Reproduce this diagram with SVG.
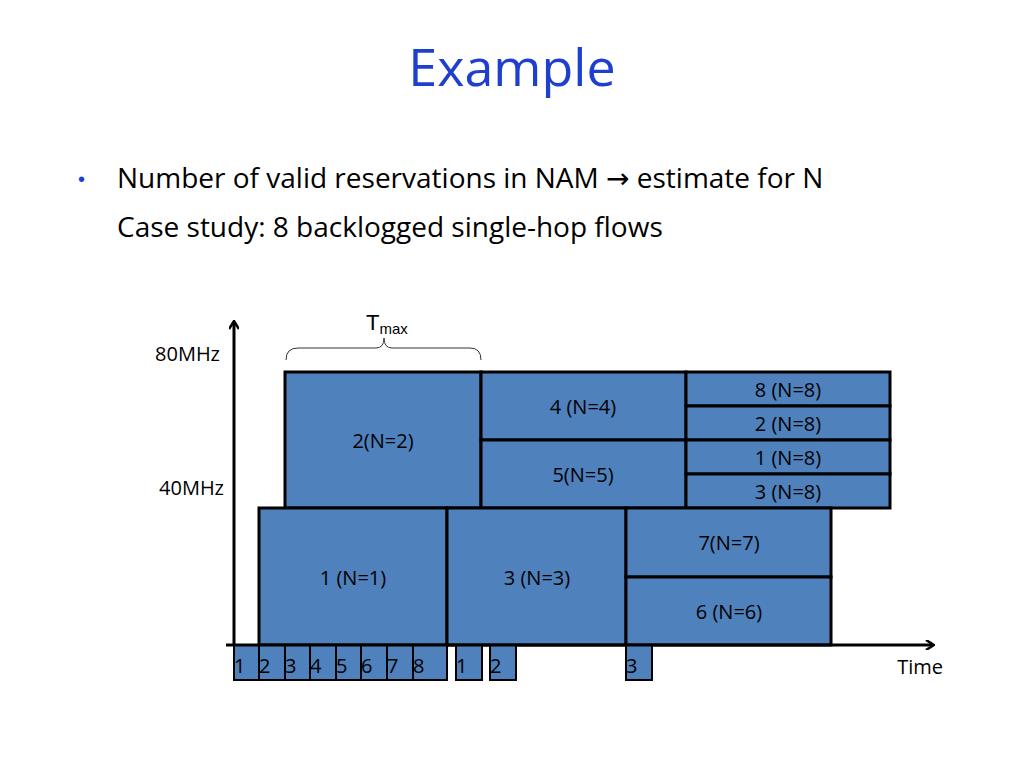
<svg xmlns="http://www.w3.org/2000/svg" width="1024" height="768" viewBox="0 0 1024 768">
<style>
.b{fill:#4f81bd;stroke:#000;stroke-width:3}
.s{fill:#4f81bd;stroke:#000;stroke-width:2}
.t{font-family:"Open Sans","Liberation Sans",sans-serif;font-size:20px;fill:#000;text-anchor:middle}
.n{font-family:"Open Sans","Liberation Sans",sans-serif;font-size:20px;fill:#000}
.h{font-family:"Open Sans","Liberation Sans",sans-serif;font-size:28px;fill:#000}
</style>
<defs><marker id="a" markerWidth="10" markerHeight="10" refX="8" refY="5" orient="auto" markerUnits="userSpaceOnUse"><path d="M1,0 L9,5 L1,10" fill="none" stroke="#000" stroke-width="2.5"/></marker></defs>
<rect width="1024" height="768" fill="#fff"/>
<text x="512" y="86" text-anchor="middle" font-family="Open Sans, Liberation Sans, sans-serif" font-size="52" fill="#1f3fcf">Example</text>
<text x="78" y="186" font-family="Liberation Sans,sans-serif" font-size="20" fill="#1f3fcf">•</text>
<text x="117" y="188" class="h">Number of valid  reservations in NAM <tspan font-family="DejaVu Sans">→</tspan> estimate for N</text>
<text x="117" y="237" class="h">Case study: 8 backlogged single-hop flows</text>
<text x="366" y="330" font-family="Liberation Sans,sans-serif" font-size="22">T<tspan font-size="15" dy="4">max</tspan></text>
<path d="M286,360 Q286,348 298,348 L376,348 Q384,348 384,338 Q384,348 392,348 L470,348 Q481,348 481,360" fill="none" stroke="#333" stroke-width="1"/>
<text x="220" y="361" class="n" text-anchor="end">80MHz</text>
<text x="224" y="495" class="n" text-anchor="end">40MHz</text>
<text x="943" y="674" class="n" text-anchor="end">Time</text>
<g id="n2"><rect class="b" x="285" y="372" width="196" height="136"/><text class="t" x="383" y="448">2(N=2)</text></g>
<g id="n4"><rect class="b" x="481" y="372" width="205" height="68"/><text class="t" x="583" y="414">4 (N=4)</text></g>
<g id="n5"><rect class="b" x="481" y="440" width="205" height="68"/><text class="t" x="583" y="482">5(N=5)</text></g>
<g id="n8"><rect class="b" x="686" y="372" width="204" height="34"/><text class="t" x="788" y="397">8 (N=8)</text></g>
<g id="n2b"><rect class="b" x="686" y="406" width="204" height="34"/><text class="t" x="788" y="431">2 (N=8)</text></g>
<g id="n1b"><rect class="b" x="686" y="440" width="204" height="34"/><text class="t" x="788" y="465">1 (N=8)</text></g>
<g id="n3b"><rect class="b" x="686" y="474" width="204" height="34"/><text class="t" x="788" y="499">3 (N=8)</text></g>
<g id="n1"><rect class="b" x="259" y="508" width="188" height="137"/><text class="t" x="353" y="585">1 (N=1)</text></g>
<g id="n3"><rect class="b" x="447" y="508" width="179" height="137"/><text class="t" x="537" y="585">3 (N=3)</text></g>
<g id="n7"><rect class="b" x="626" y="508" width="205" height="69"/><text class="t" x="729" y="550">7(N=7)</text></g>
<g id="n6"><rect class="b" x="626" y="577" width="205" height="68"/><text class="t" x="729" y="619">6 (N=6)</text></g>
<g id="slots">
<rect class="s" x="234" y="645" width="25" height="35"/><text class="n" x="234" y="673">1</text>
<rect class="s" x="259" y="645" width="26" height="35"/><text class="n" x="259" y="673">2</text>
<rect class="s" x="285" y="645" width="25" height="35"/><text class="n" x="285" y="673">3</text>
<rect class="s" x="310" y="645" width="26" height="35"/><text class="n" x="310" y="673">4</text>
<rect class="s" x="336" y="645" width="25" height="35"/><text class="n" x="336" y="673">5</text>
<rect class="s" x="361" y="645" width="26" height="35"/><text class="n" x="361" y="673">6</text>
<rect class="s" x="387" y="645" width="26" height="35"/><text class="n" x="387" y="673">7</text>
<rect class="s" x="413" y="645" width="34" height="35"/><text class="n" x="413" y="673">8</text>
<rect class="s" x="456" y="645" width="26" height="35"/><text class="n" x="456" y="673">1</text>
<rect class="s" x="490" y="645" width="26" height="35"/><text class="n" x="490" y="673">2</text>
<rect class="s" x="626" y="645" width="26" height="35"/><text class="n" x="626" y="673">3</text>
</g>
<g id="connectors">
<line x1="234" y1="645" x2="234" y2="322" stroke="#000" stroke-width="3" marker-end="url(#a)"/>
<line x1="226" y1="645" x2="933" y2="645" stroke="#000" stroke-width="3" marker-end="url(#a)"/>
</g>
</svg>
